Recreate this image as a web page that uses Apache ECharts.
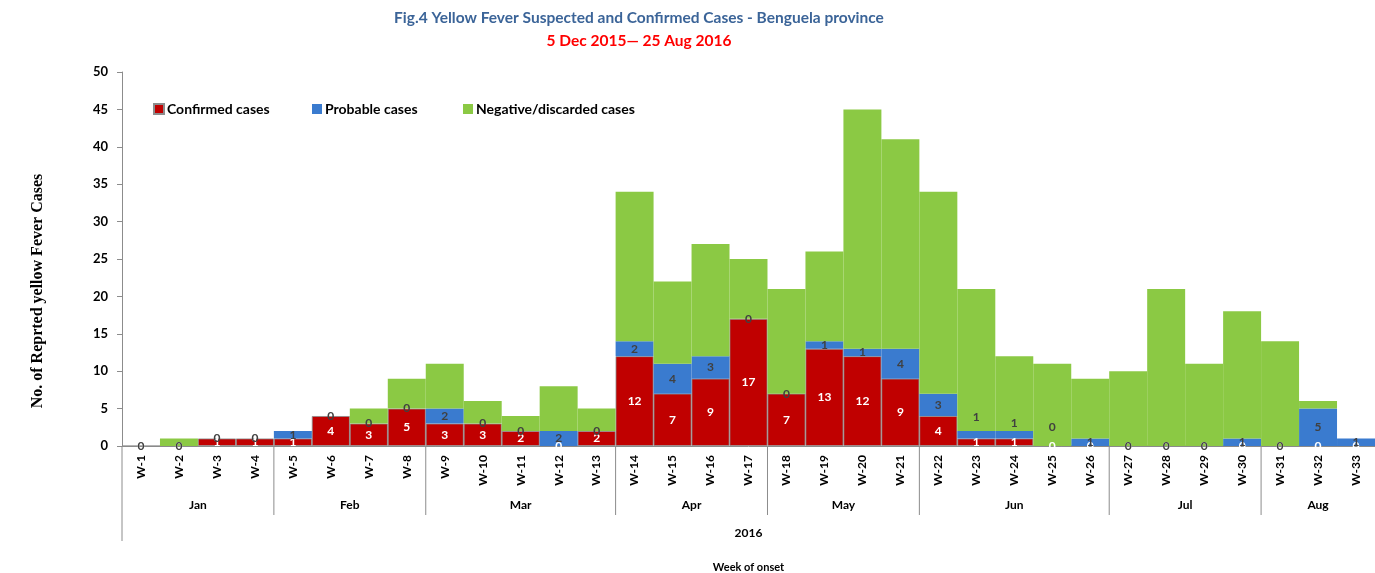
<!DOCTYPE html>
<html><head><meta charset="utf-8">
<script src="https://cdn.jsdelivr.net/npm/echarts@6/dist/echarts.min.js"></script>
<style>html,body{margin:0;padding:0;background:#fff;overflow:hidden}#c{width:1375px;height:573px}</style>
</head><body><div id="c"></div>
<script>
const weeks = ['W-1','W-2','W-3','W-4','W-5','W-6','W-7','W-8','W-9','W-10','W-11','W-12','W-13','W-14','W-15','W-16','W-17','W-18','W-19','W-20','W-21','W-22','W-23','W-24','W-25','W-26','W-27','W-28','W-29','W-30','W-31','W-32','W-33'];
const confirmed = [0,0,1,1,1,4,3,5,3,3,2,0,2,12,7,9,17,7,13,12,9,4,1,1,0,0,0,0,0,0,0,0,0];
const probable  = [0,0,0,0,1,0,0,0,2,0,0,2,0,2,4,3,0,0,1,1,4,3,1,1,0,1,0,0,0,1,0,5,1];
const negative  = [0,1,0,0,0,0,2,4,6,3,2,6,3,20,11,15,8,14,12,32,28,27,19,10,11,8,10,21,11,17,14,1,0];
const monthNames = ['Jan','Feb','Mar','Apr','May','Jun','Jul','Aug'];
const monthFirstWeek = [0,4,8,13,17,21,26,30];
const monthLastWeek  = [3,7,12,16,20,25,29,32];
const yTicks = {min:0, max:50, interval:5};
const seriesNames = ['Confirmed cases','Probable cases','Negative/discarded cases'];

const chart = echarts.init(document.getElementById('c'), null, {width:1375, height:573});
const F = 'Lato, "Open Sans", sans-serif';
const probLabelShift = {22:-18, 23:-12, 24:-19};
const probData = probable.map((v,i)=> probLabelShift[i] !== undefined ? {value:v, label:{offset:[0, probLabelShift[i]]}} : v);

const legendLefts = [148, 307, 458];
const legends = seriesNames.map((n,i)=>({
  data:[n], left:legendLefts[i], top:97, itemWidth:10, itemHeight:10, icon:'rect',
  textStyle:{fontFamily:F, fontSize:14, fontWeight:'bold', color:'#000', padding:[0,0,0,-2]}
}));

chart.setOption({
  animation:false,
  title:{
    text:'Fig.4 Yellow Fever Suspected and Confirmed Cases - Benguela province',
    subtext:'5 Dec 2015\u2014 25 Aug 2016',
    left:634, textAlign:'center', top:4, itemGap:5,
    textStyle:{fontFamily:F, fontSize:15.5, fontWeight:'bold', color:'#3B6498', lineHeight:18},
    subtextStyle:{fontFamily:F, fontSize:15.5, fontWeight:'bold', color:'#FF0000', lineHeight:18}
  },
  legend:legends,
  grid:{left:122, right:0, top:72, height:374, containLabel:false, outerBoundsMode:'none'},
  xAxis:[{
    type:'category', data:weeks,
    axisLine:{lineStyle:{color:'#8c8c8c'}},
    axisTick:{length:42, lineStyle:{color:'#8c8c8c'}},
    axisLabel:{rotate:90, margin:9, fontFamily:F, fontSize:12, fontWeight:'bold', color:'#000', interval:0},
    name:'2016', nameLocation:'middle', nameGap:81,
    nameTextStyle:{fontFamily:F, fontSize:12, fontWeight:'bold', color:'#000'}
  },{
    type:'category', data:weeks, position:'bottom',
    axisLine:{show:false}, axisTick:{show:false}, axisLabel:{show:false},
    name:'Week of onset', nameLocation:'middle', nameGap:116,
    nameTextStyle:{fontFamily:F, fontSize:11, fontWeight:'bold', color:'#000'}
  }],
  yAxis:{
    type:'value', min:yTicks.min, max:yTicks.max, interval:yTicks.interval,
    axisLine:{show:true, lineStyle:{color:'#8c8c8c'}},
    axisTick:{show:true, length:5, lineStyle:{color:'#8c8c8c'}},
    splitLine:{show:false},
    axisLabel:{fontFamily:F, fontSize:13, fontWeight:'bold', color:'#000', margin:14},
    name:'No. of Reprted yellow Fever Cases', nameLocation:'middle', nameGap:76, nameRotate:90,
    nameTextStyle:{fontFamily:'"Liberation Serif", serif', fontSize:16, fontWeight:'bold', color:'#000', padding:[0,64,0,0]}
  },
  series:[{
    name:seriesNames[0], type:'bar', stack:'a', data:confirmed,
    barCategoryGap:'0%', barGap:'0%',
    itemStyle:{color:'#C00000', borderColor:'#8c8c8c', borderWidth:0.8},
    label:{show:true, position:'inside', color:'#fff', fontFamily:F, fontSize:12, fontWeight:'bold'}
  },{
    name:seriesNames[1], type:'bar', stack:'a', data:probData,
    barCategoryGap:'0%',
    itemStyle:{color:'#3A7BCF'},
    label:{show:true, position:'inside', color:'#404040', fontFamily:F, fontSize:12, fontWeight:'bold'}
  },{
    name:seriesNames[2], type:'bar', stack:'a', data:negative,
    barCategoryGap:'0%',
    itemStyle:{color:'#8BC944'},
    label:{show:false}
  },{
    name:'months', type:'custom', clip:false, z:5,
    encode:{x:[0,1], y:2},
    data:monthNames.map((m,i)=>[monthFirstWeek[i], monthLastWeek[i], 0]),
    renderItem:function(params, api){
      const i = params.dataIndex;
      const bw = api.size([1,0])[0];
      const p0 = api.coord([api.value(0), 0]);
      const p1 = api.coord([api.value(1), 0]);
      const left = p0[0]-bw/2, right = p1[0]+bw/2, y0 = p0[1];
      return {type:'group', children:[{
        type:'line', shape:{x1:left, y1:y0, x2:left, y2:y0+(i===0?95:69)},
        style:{stroke:'#8c8c8c', lineWidth:1}
      },{
        type:'text', style:{text:monthNames[i], x:(left+right)/2, y:y0+59, align:'center', verticalAlign:'middle',
          font:'bold 12px '+F, fill:'#000'}
      }]};
    }
  }]
});
</script></body></html>
